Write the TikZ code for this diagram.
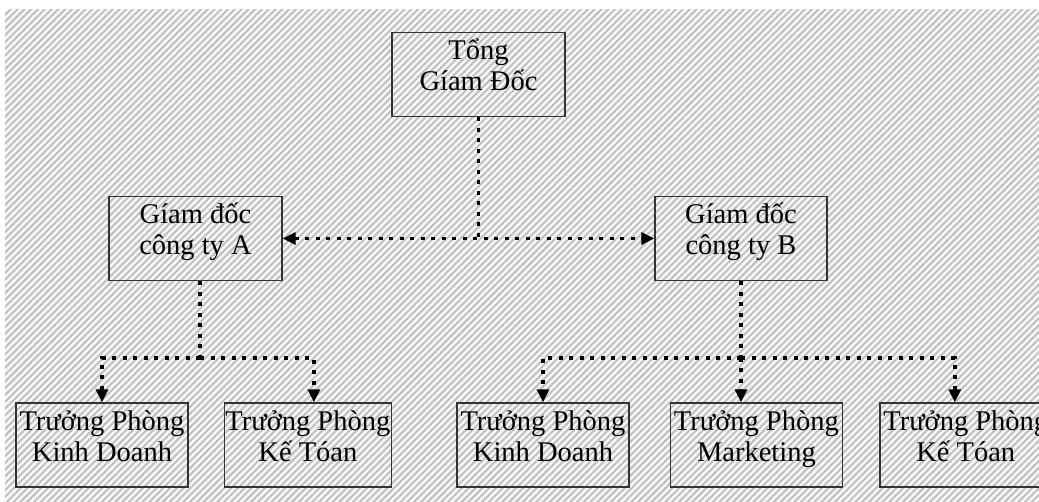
\documentclass[tikz,border=0pt]{standalone}
\usepackage{fontspec}
\setmainfont{Liberation Serif}
\usetikzlibrary{positioning,arrows.meta,patterns.meta}

\begin{document}
\begin{tikzpicture}[
    x=1pt, y=-1pt,
    post/.style={draw=black!80, line width=1.4pt, minimum width=172pt, text height=58pt, text depth=26pt, inner sep=0pt, align=center, font=\fontsize{28.5pt}{31pt}\selectfont},
    link/.style={line width=3.8pt, dash pattern=on 4pt off 6.5pt},
    linkarrow/.style={link, -{Triangle[length=13pt,width=12pt]}},
    node distance=35pt
]

% Hatched background
\useasboundingbox (0,0) rectangle (1039,502);
\fill[gray!6] (5,10) rectangle (1039,502);
\path[pattern={Lines[angle=45,distance=4.8pt,line width=2pt]}, pattern color=gray!50] (5,10) rectangle (1039,502);

% Top
\node[post, minimum width=173pt] (tong) at (478.5,74.5) {Tổng\\Gíam Đốc};

% Directors
\node[post, minimum width=173pt] (gdA) at (195.5,238.5) {Gíam đốc\\công ty A};
\node[post] (gdB) at (741,238.5) {Gíam đốc\\công ty B};

% Departments of A
\node[post] (kdA) at (102,445) {Trưởng Phòng\\Kinh Doanh};
\node[post, minimum width=167pt, right=35pt of kdA] (ktA) {Trưởng Phòng\\Kế Tóan};

% Departments of B
\node[post] (kdB) at (543,445) {Trưởng Phòng\\Kinh Doanh};
\node[post, right=40pt of kdB] (mkt) {Trưởng Phòng\\Marketing};
\node[post, right=36pt of mkt] (ktB) {Trưởng Phòng\\Kế Tóan};

% Top links
\coordinate (jtop) at (tong.south |- gdA.east);
\draw[link] (tong.south) -- (jtop);
\draw[link, {Triangle[length=13pt,width=12pt]}-{Triangle[length=13pt,width=12pt]}] (gdA.east) -- (gdB.west);

% Links of A
\coordinate (ja) at (200,358);
\draw[link] (gdA.south -| ja) -- (ja);
\draw[linkarrow] (ja) -| (kdA.north);
\draw[linkarrow] (ja) -| ([xshift=6pt]ktA.north);

% Links of B
\coordinate (jb) at (gdB.south |- ja);
\draw[link] (gdB.south) -- (jb);
\draw[linkarrow] (jb) -- (jb |- mkt.north);
\draw[linkarrow] (jb) -| (kdB.north);
\draw[linkarrow] (jb) -| ([xshift=-11pt]ktB.north);

\end{tikzpicture}
\end{document}
